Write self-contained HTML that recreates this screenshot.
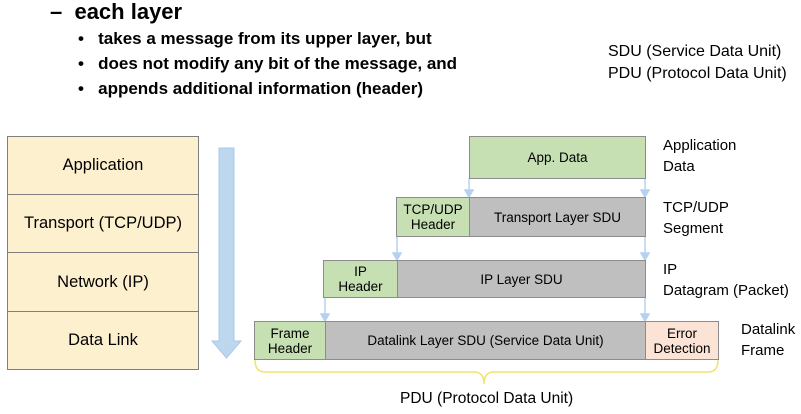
<!DOCTYPE html>
<html><head><meta charset="utf-8"><style>
body{margin:0;width:801px;height:414px;background:#fff;position:relative;overflow:hidden;font-family:"Liberation Sans",sans-serif;color:#000}
.a{position:absolute}
.b{position:absolute;box-sizing:border-box;border:1.5px solid #8c8c8c;display:flex;align-items:center;justify-content:center;text-align:center;font-size:13.5px;line-height:15px}
.g{background:#c6e0b4}.s{background:#bfbfbf}.p{background:#fbe3d6}
.l{position:absolute;font-size:15px;line-height:21px}
.lf{font-size:16.5px !important}
</style></head><body>
<div class="a" style="left:50px;top:-1px;font-size:22px;font-weight:bold;line-height:26px">–&nbsp; each layer</div>
<div class="a" style="left:78px;top:26px;font-size:17px;font-weight:bold;line-height:25px">
<div>•&nbsp;&nbsp; takes a message from its upper layer, but</div>
<div>•&nbsp;&nbsp; does not modify any bit of the message, and</div>
<div>•&nbsp;&nbsp; appends additional information (header)</div></div>
<div class="l" style="left:608px;top:41px;font-size:16px;line-height:22px">SDU (Service Data Unit)<br>PDU (Protocol Data Unit)</div>

<div class="a" style="left:7px;top:136px;width:192px;height:234px;box-sizing:border-box;border:1.5px solid #7f7f7f;background:#fdf0cf"></div>
<div class="b lf" style="left:7px;top:136px;width:192px;height:59px;background:#fdf0cf;border-color:#7f7f7f">Application</div>
<div class="b lf" style="left:7px;top:194px;width:192px;height:59px;background:#fdf0cf;border-color:#7f7f7f">Transport (TCP/UDP)</div>
<div class="b lf" style="left:7px;top:252px;width:192px;height:60px;background:#fdf0cf;border-color:#7f7f7f">Network (IP)</div>
<div class="b lf" style="left:7px;top:311px;width:192px;height:59px;background:#fdf0cf;border-color:#7f7f7f">Data Link</div>

<svg class="a" style="left:0;top:0" width="801" height="414">
<polygon points="219,148 234,148 234,341 241,341 226.5,358 212,341 219,341" fill="#bdd7ee" stroke="#a9c8e6"/>
<g stroke="#b4d2f0" stroke-width="1.5" fill="#b4d2f0">
<line x1="469" y1="178" x2="469" y2="193"/><polygon points="465,190 473,190 469,197"/>
<line x1="645" y1="178" x2="645" y2="193"/><polygon points="641,190 649,190 645,197"/>
<line x1="397" y1="236" x2="397" y2="256"/><polygon points="393,253 401,253 397,260"/>
<line x1="645" y1="236" x2="645" y2="256"/><polygon points="641,253 649,253 645,260"/>
<line x1="325" y1="297" x2="325" y2="317"/><polygon points="321,314 329,314 325,321"/>
<line x1="645" y1="297" x2="645" y2="317"/><polygon points="641,314 649,314 645,321"/>
</g>
<path d="M255,360 Q255,372 265,372 L474,372 Q484,372 484,384 Q484,372 494,372 L708,372 Q718,372 718,360" fill="none" stroke="#f2e36a" stroke-width="1.5"/>
</svg>

<div class="b g" style="left:469px;top:136px;width:177px;height:43px">App. Data</div>
<div class="b g" style="left:396px;top:197px;width:74px;height:40px">TCP/UDP<br>Header</div>
<div class="b s" style="left:469px;top:197px;width:177px;height:40px">Transport Layer SDU</div>
<div class="b g" style="left:323px;top:260px;width:75px;height:38px">IP<br>Header</div>
<div class="b s" style="left:397px;top:260px;width:249px;height:38px">IP Layer SDU</div>
<div class="b g" style="left:254px;top:321px;width:72px;height:39px">Frame<br>Header</div>
<div class="b s" style="left:325px;top:321px;width:321px;height:39px">Datalink Layer SDU (Service Data Unit)</div>
<div class="b p" style="left:645px;top:321px;width:74px;height:39px">Error<br>Detection</div>

<div class="l" style="left:663px;top:135px">Application<br>Data</div>
<div class="l" style="left:663px;top:197px">TCP/UDP<br>Segment</div>
<div class="l" style="left:663px;top:259px">IP<br>Datagram (Packet)</div>
<div class="l" style="left:741px;top:319px">Datalink<br>Frame</div>
<div class="l" style="left:400px;top:388px;font-size:15.5px">PDU (Protocol Data Unit)</div>
</body></html>
